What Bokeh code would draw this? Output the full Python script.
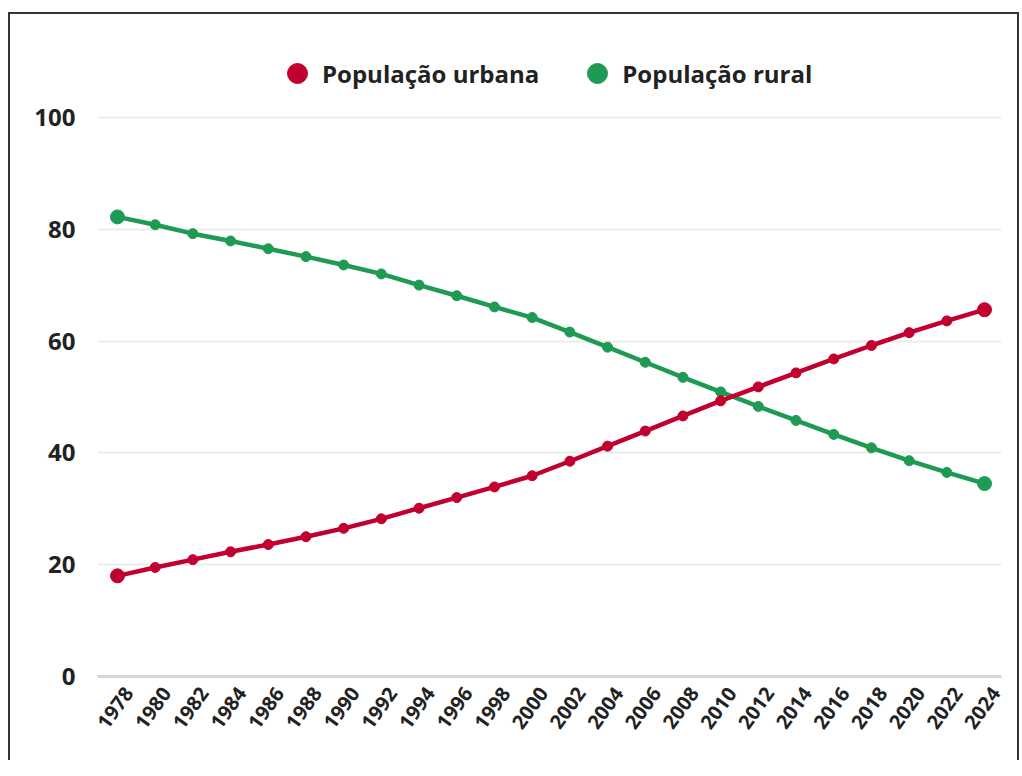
import math
from bokeh.plotting import figure
from bokeh.models import ColumnDataSource, Legend, LegendItem, FixedTicker, Range1d
from bokeh.embed import file_html
from bokeh.resources import INLINE

years = list(range(1978, 2025, 2))
urbana = [18.0, 19.5, 20.9, 22.3, 23.6, 25.0, 26.5, 28.2, 30.1, 32.0, 33.9, 35.9,
          38.5, 41.2, 43.9, 46.6, 49.3, 51.8, 54.3, 56.8, 59.2, 61.5, 63.6, 65.6]
rural = [82.2, 80.8, 79.2, 77.9, 76.5, 75.1, 73.6, 72.0, 70.0, 68.1, 66.1, 64.2,
         61.6, 58.9, 56.2, 53.5, 50.9, 48.3, 45.8, 43.3, 40.9, 38.6, 36.5, 34.5]
y_ticks = [0, 20, 40, 60, 80, 100]
labels = ["População urbana", "População rural"]
colors = ["#C2002F", "#1F9A54"]

src = ColumnDataSource(dict(year=years, urbana=urbana, rural=rural))
src_end = ColumnDataSource(dict(year=[years[0], years[-1]],
                                urbana=[urbana[0], urbana[-1]],
                                rural=[rural[0], rural[-1]]))

x0, x1 = 1976.94, 2024.9
# frame reaches the top of the box so the legend (drawn inside it) sits above the 100 line
p = figure(width=1011, height=748, output_backend="svg", toolbar_location=None,
           x_range=Range1d(x0, x1), y_range=Range1d(0, 118.4),
           min_border_left=87, min_border_right=20, min_border_top=0,
           min_border_bottom=86)
p.extra_x_ranges = {"lab": Range1d(x0 - 0.6, x1 - 0.6)}
p.margin = (12, 0, 0, 8)
p.styles = {"border-top": "2px solid #333", "border-left": "2px solid #333",
            "border-right": "2px solid #333"}
p.outline_line_color = None
p.background_fill_color = "white"
p.border_fill_color = "white"

p.xgrid.visible = False
p.ygrid.grid_line_color = "#ececec"
p.ygrid.grid_line_width = 2

font = "Open Sans"
p.yaxis.ticker = FixedTicker(ticks=y_ticks)
p.yaxis.axis_line_color = None
p.yaxis.major_tick_line_color = None
p.yaxis.minor_tick_line_color = None
p.yaxis.major_label_text_font = font
p.yaxis.major_label_text_font_style = "bold"
p.yaxis.major_label_text_font_size = "24px"
p.yaxis.major_label_text_color = "#222222"
p.yaxis.major_label_standoff = 16

xa = p.xaxis[0]
xa.x_range_name = "lab"
xa.ticker = FixedTicker(ticks=years)
xa.axis_line_color = "#d6d6d6"
xa.axis_line_width = 3
xa.major_tick_line_color = None
xa.minor_tick_line_color = None
xa.major_label_orientation = math.radians(54)
xa.major_label_text_font = font
xa.major_label_text_font_style = "bold"
xa.major_label_text_font_size = "20px"
xa.major_label_text_color = "#222222"
xa.major_label_standoff = 7

# rural first, urban on top
p.line(x="year", y="rural", source=src, line_width=4.5, color=colors[1])
sr = p.scatter(x="year", y="rural", source=src, size=10, color=colors[1])
p.scatter(x="year", y="rural", source=src_end, size=14, color=colors[1])
p.line(x="year", y="urbana", source=src, line_width=4.5, color=colors[0])
su = p.scatter(x="year", y="urbana", source=src, size=10, color=colors[0])
p.scatter(x="year", y="urbana", source=src_end, size=14, color=colors[0])

legend = Legend(items=[LegendItem(label=labels[0], renderers=[su]),
                       LegendItem(label=labels[1], renderers=[sr])],
                orientation="horizontal", location=(175, 578),
                glyph_width=50, glyph_height=50, label_standoff=-8, spacing=33,
                padding=0, margin=0, border_line_color=None,
                background_fill_alpha=0, label_height=50,
                label_text_font=font, label_text_font_style="bold",
                label_text_font_size="24px", label_text_color="#222222")
p.add_layout(legend)

open("out.html", "w").write(file_html(p, INLINE))
